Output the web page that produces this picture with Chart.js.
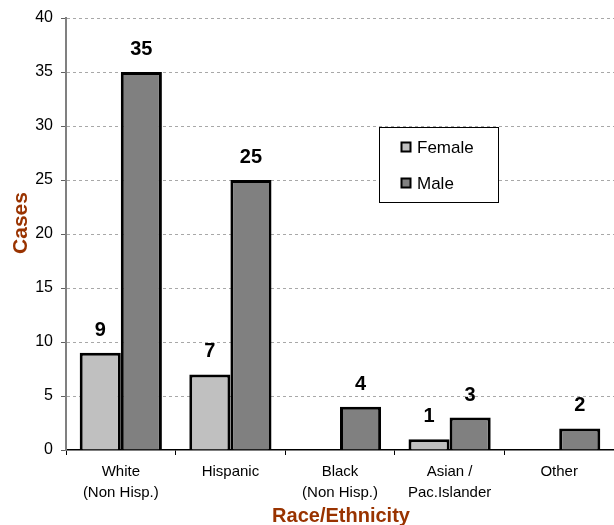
<!DOCTYPE html>
<html><head><meta charset="utf-8">
<script src="https://cdn.jsdelivr.net/npm/chart.js@4"></script>
<style>html,body{margin:0;padding:0;background:#fff}#wrap{width:614px;height:525px}</style>
</head><body><div id="wrap"><canvas id="c" width="614" height="525"></canvas></div>
<script>
const categories = [["White","(Non Hisp.)"],"Hispanic",["Black","(Non Hisp.)"],["Asian /","Pac.Islander"],"Other"];
const femaleCases = [9,7,0,1,0];
const maleCases = [35,25,4,3,2];
const seriesNames = ["Female","Male"];
const yMin = 0, yMax = 40, yStep = 5;
const xTitle = "Race/Ethnicity";
const yTitle = "Cases";

const FONT = "'Liberation Sans', Arial, sans-serif";
const fills = ["#c0c0c0","#808080"];

const labelPlugin = {
  id: 'valLabels',
  afterDatasetsDraw(chart) {
    const ctx = chart.ctx;
    ctx.save();
    ctx.font = "bold 20px " + FONT;
    ctx.fillStyle = "#000";
    ctx.textAlign = "center";
    ctx.textBaseline = "alphabetic";
    chart.data.datasets.forEach((ds, di) => {
      const meta = chart.getDatasetMeta(di);
      meta.data.forEach((el, i) => {
        const v = ds.data[i];
        if (!v) return;
        ctx.fillText(String(v), el.x, el.y - 17);
      });
    });
    ctx.restore();
  }
};

const titlePlugin = {
  id: 'axisTitles',
  afterDraw(chart) {
    const ctx = chart.ctx, ca = chart.chartArea;
    ctx.save();
    ctx.font = "bold 20px " + FONT;
    ctx.fillStyle = "#993300";
    ctx.textAlign = "center";
    ctx.textBaseline = "alphabetic";
    ctx.fillText(xTitle, (ca.left + ca.right) / 2 + 1, 522);
    ctx.translate(27, 223);
    ctx.rotate(-Math.PI / 2);
    ctx.font = "bold 21px " + FONT;
    ctx.fillText(yTitle, 0, 0);
    ctx.restore();
  }
};

const legendPlugin = {
  id: 'boxLegend',
  afterDraw(chart) {
    const ctx = chart.ctx;
    ctx.save();
    const x = 379.5, y = 127.5, w = 119, h = 75;
    ctx.fillStyle = "#fff";
    ctx.fillRect(x, y, w, h);
    ctx.strokeStyle = "#000";
    ctx.lineWidth = 1;
    ctx.strokeRect(x, y, w, h);
    const rows = [147, 183];
    chart.data.datasets.forEach((ds, i) => {
      const cy = rows[i];
      ctx.fillStyle = ds.backgroundColor;
      ctx.fillRect(401, cy - 5, 10, 10);
      ctx.lineWidth = 2;
      ctx.strokeStyle = "#000";
      ctx.strokeRect(401.5, cy - 4.5, 9, 9);
      ctx.fillStyle = "#000";
      ctx.font = "17px " + FONT;
      ctx.textAlign = "left";
      ctx.textBaseline = "middle";
      ctx.fillText(ds.label, 417, cy + 1);
    });
    ctx.restore();
  }
};

new Chart(document.getElementById('c'), {
  type: 'bar',
  data: {
    labels: categories,
    datasets: [
      { label: seriesNames[0], data: femaleCases, backgroundColor: fills[0], borderColor: "#000", borderWidth: 3, borderSkipped: 'bottom' },
      { label: seriesNames[1], data: maleCases, backgroundColor: fills[1], borderColor: "#000", borderWidth: 3, borderSkipped: 'bottom' }
    ]
  },
  options: {
    responsive: false,
    animation: false,
    devicePixelRatio: 1,
    layout: { padding: { top: 18, right: 0, left: 0, bottom: 0 } },
    plugins: { legend: { display: false }, tooltip: { enabled: false } },
    datasets: { bar: { categoryPercentage: 0.75, barPercentage: 1 } },
    scales: {
      x: {
        offset: true,
        afterFit(s) { s.height = 75; },
        grid: { offset: true, drawOnChartArea: false, drawTicks: true, tickLength: 5, tickColor: "#000", tickWidth: 1 },
        border: { color: "#000", width: 1.5 },
        ticks: { color: "#000", font: { family: FONT, size: 15, lineHeight: 1.4 }, padding: 6, maxRotation: 0, autoSkip: false }
      },
      y: {
        min: yMin, max: yMax,
        afterFit(s) { s.width = 66; },
        ticks: { stepSize: yStep, color: "#000", font: { family: FONT, size: 16 }, padding: 8 },
        grid: {
          color: (c) => c.tick && c.tick.value === 0 ? "rgba(0,0,0,0)" : "#a8a8a8",
          lineWidth: 1, tickLength: 5, tickColor: "#606060", tickWidth: 1, tickBorderDash: []
        },
        border: { color: "#808080", width: 2, dash: [3, 3] }
      }
    }
  },
  plugins: [labelPlugin, titlePlugin, legendPlugin]
});
</script>
</body></html>
